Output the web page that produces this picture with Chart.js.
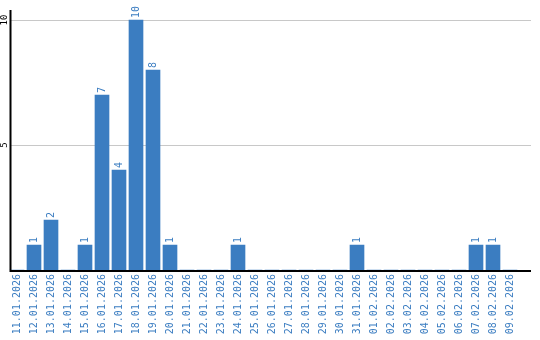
<!DOCTYPE html>
<html>
<head>
<meta charset="utf-8">
<script src="https://cdn.jsdelivr.net/npm/chart.js@4.4.1/dist/chart.umd.min.js"></script>
<style>
  html, body { margin: 0; padding: 0; background: #fff; }
  #wrap { width: 540px; height: 340px; }
</style>
</head>
<body>
<div id="wrap"><canvas id="dailyChart" width="540" height="340"></canvas></div>
<script>
// ── data ──
const days = [
  '11.01.2026', '12.01.2026', '13.01.2026', '14.01.2026', '15.01.2026',
  '16.01.2026', '17.01.2026', '18.01.2026', '19.01.2026', '20.01.2026',
  '21.01.2026', '22.01.2026', '23.01.2026', '24.01.2026', '25.01.2026',
  '26.01.2026', '27.01.2026', '28.01.2026', '29.01.2026', '30.01.2026',
  '31.01.2026', '01.02.2026', '02.02.2026', '03.02.2026', '04.02.2026',
  '05.02.2026', '06.02.2026', '07.02.2026', '08.02.2026', '09.02.2026'
];
const counts = [0, 1, 2, 0, 1, 7, 4, 10, 8, 1, 0, 0, 0, 1, 0, 0, 0, 0, 0, 0, 1, 0, 0, 0, 0, 0, 0, 1, 1, 0];
const yTicks = [5, 10];

const BLUE = '#3b7dc1';
const FONT = '"DejaVu Sans Mono", monospace';

// gridlines, axis lines, rotated y labels and bar values
const decorations = {
  id: 'decorations',
  beforeDatasetsDraw(chart) {
    const ctx = chart.ctx;
    const y = chart.scales.y;
    ctx.save();
    ctx.strokeStyle = '#c8c8c8';
    ctx.lineWidth = 1;
    yTicks.forEach(v => {
      const py = Math.round(y.getPixelForValue(v)) + 0.5;
      ctx.beginPath();
      ctx.moveTo(11, py);
      ctx.lineTo(531, py);
      ctx.stroke();
    });
    ctx.restore();
  },
  afterDatasetsDraw(chart) {
    const ctx = chart.ctx;
    const y = chart.scales.y;
    const area = chart.chartArea;
    ctx.save();

    // axis lines
    ctx.strokeStyle = '#000';
    ctx.lineWidth = 2;
    ctx.beginPath();
    ctx.moveTo(10.5, area.top);
    ctx.lineTo(10.5, area.bottom + 1);
    ctx.lineTo(531, area.bottom + 1);
    ctx.stroke();

    // y tick labels (rotated)
    ctx.fillStyle = '#000';
    ctx.font = '9px ' + FONT;
    ctx.textAlign = 'center';
    ctx.textBaseline = 'middle';
    yTicks.forEach(v => {
      ctx.save();
      ctx.translate(4.5, y.getPixelForValue(v));
      ctx.rotate(-Math.PI / 2);
      ctx.fillText(String(v), 0, 0);
      ctx.restore();
    });

    // bar values
    ctx.fillStyle = BLUE;
    ctx.font = '10px ' + FONT;
    ctx.textAlign = 'left';
    const meta = chart.getDatasetMeta(0);
    meta.data.forEach((bar, i) => {
      if (!counts[i]) return;
      ctx.save();
      ctx.translate(bar.x, bar.y - 2);
      ctx.rotate(-Math.PI / 2);
      ctx.fillText(String(counts[i]), 0, 0);
      ctx.restore();
    });
    ctx.restore();
  }
};

new Chart(document.getElementById('dailyChart').getContext('2d'), {
  type: 'bar',
  data: {
    labels: days,
    datasets: [{
      data: counts,
      backgroundColor: BLUE,
      borderWidth: 0,
      barThickness: 14
    }]
  },
  options: {
    responsive: false,
    devicePixelRatio: 1,
    animation: false,
    layout: { padding: { left: 0, right: 21.5, top: 10, bottom: 0 } },
    plugins: { legend: { display: false }, tooltip: { enabled: false } },
    scales: {
      x: {
        grid: { display: false, drawTicks: false },
        border: { display: false },
        ticks: {
          autoSkip: false,
          minRotation: 90,
          maxRotation: 90,
          padding: 4,
          color: BLUE,
          font: { family: FONT, size: 10 }
        },
        afterFit(s) { s.height = 70; }
      },
      y: {
        min: 0,
        max: 10.4,
        grid: { display: false, drawTicks: false },
        border: { display: false },
        ticks: { display: false },
        afterFit(s) { s.width = 8.5; }
      }
    }
  },
  plugins: [decorations]
});
</script>
</body>
</html>
